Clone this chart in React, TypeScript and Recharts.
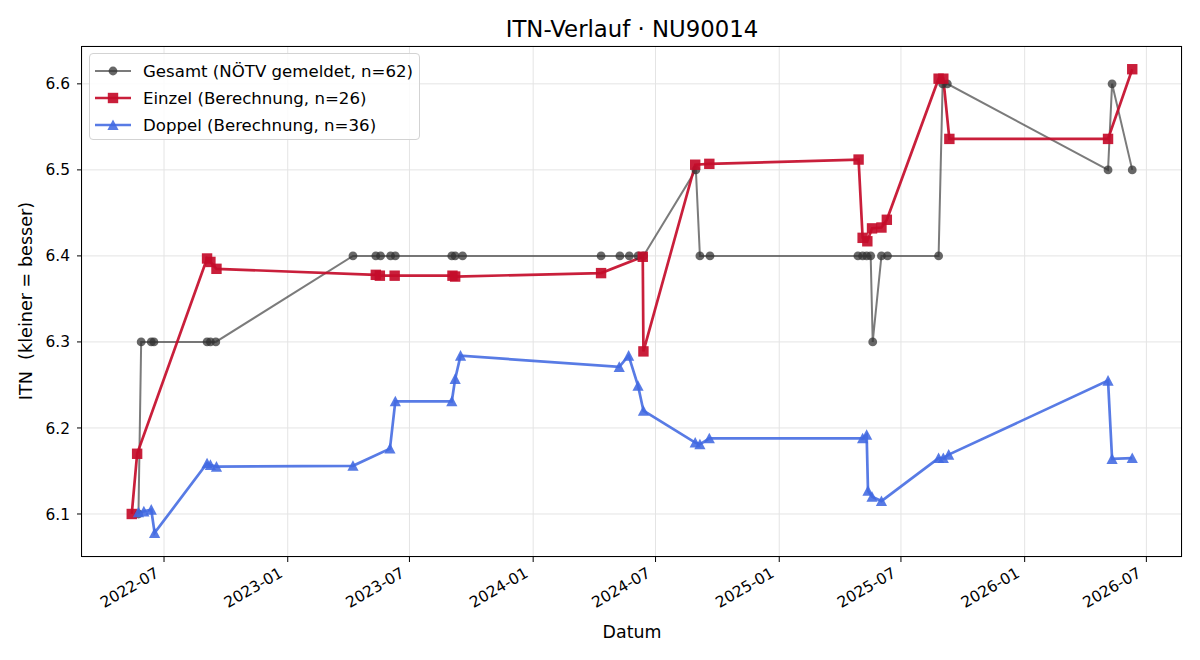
import React from "react";
import { LineChart, Line, XAxis, YAxis, CartesianGrid } from "recharts";

// Gesamt (NÖTV gemeldet)
const gesamtDates = [
  "2022-05-24", "2022-05-28", "2022-06-12", "2022-06-16", "2022-09-03", "2022-09-08",
  "2022-09-16", "2023-04-08", "2023-05-12", "2023-05-19", "2023-06-03", "2023-06-10",
  "2023-09-02", "2023-09-07", "2023-09-18", "2024-04-11", "2024-05-09", "2024-05-23",
  "2024-06-05", "2024-06-13", "2024-08-30", "2024-09-05", "2024-09-20", "2025-04-28",
  "2025-05-05", "2025-05-11", "2025-05-17", "2025-05-20", "2025-06-02", "2025-06-11",
  "2025-08-26", "2025-09-01", "2025-09-08", "2026-05-05", "2026-05-11", "2026-06-10",
];
const gesamtValues = [
  6.1, 6.3, 6.3, 6.3, 6.3, 6.3,
  6.3, 6.4, 6.4, 6.4, 6.4, 6.4,
  6.4, 6.4, 6.4, 6.4, 6.4, 6.4,
  6.4, 6.4, 6.5, 6.4, 6.4, 6.4,
  6.4, 6.4, 6.4, 6.3, 6.4, 6.4,
  6.4, 6.6, 6.6, 6.5, 6.6, 6.5,
];

// Einzel (Berechnung)
const einzelDates = [
  "2022-05-14", "2022-05-22", "2022-09-03", "2022-09-08", "2022-09-17", "2023-05-12",
  "2023-05-18", "2023-06-09", "2023-09-03", "2023-09-07", "2024-04-11", "2024-06-12",
  "2024-06-13", "2024-08-29", "2024-09-19", "2025-04-29", "2025-05-05", "2025-05-12",
  "2025-05-19", "2025-06-02", "2025-06-10", "2025-08-26", "2025-09-02", "2025-09-11",
  "2026-05-05", "2026-06-10",
];
const einzelValues = [
  6.1, 6.17, 6.397, 6.393, 6.385, 6.378,
  6.377, 6.377, 6.377, 6.376, 6.38, 6.399,
  6.289, 6.506, 6.507, 6.512, 6.421, 6.417,
  6.432, 6.433, 6.442, 6.606, 6.606, 6.536,
  6.536, 6.617,
];

// Doppel (Berechnung)
const doppelDates = [
  "2022-05-24", "2022-06-01", "2022-06-12", "2022-06-17", "2022-09-03", "2022-09-08",
  "2022-09-17", "2023-04-08", "2023-06-02", "2023-06-10", "2023-09-02", "2023-09-07",
  "2023-09-15", "2024-05-08", "2024-05-22", "2024-06-05", "2024-06-13", "2024-08-29",
  "2024-09-05", "2024-09-19", "2025-05-05", "2025-05-11", "2025-05-13", "2025-05-19",
  "2025-06-02", "2025-08-26", "2025-09-02", "2025-09-10", "2026-05-05", "2026-05-11",
  "2026-06-10",
];
const doppelValues = [
  6.102, 6.103, 6.105, 6.078, 6.159, 6.157,
  6.155, 6.156, 6.176, 6.231, 6.231, 6.257,
  6.284, 6.271, 6.284, 6.249, 6.22, 6.183,
  6.181, 6.188, 6.188, 6.192, 6.127, 6.12,
  6.115, 6.165, 6.165, 6.169, 6.255, 6.164,
  6.165,
];

const xTickDates = [
  "2022-07-01", "2023-01-01", "2023-07-01", "2024-01-01", "2024-07-01",
  "2025-01-01", "2025-07-01", "2026-01-01", "2026-07-01",
];
const yTicks = [6.1, 6.2, 6.3, 6.4, 6.5, 6.6];

const FONT = "'DejaVu Sans', sans-serif";
const GREY_LINE = "rgba(55,55,55,0.66)";
const GREY_DOT = "rgba(50,50,50,0.74)";
const RED = "rgba(196,12,42,0.92)";
const BLUE = "rgba(65,105,225,0.88)";

const ts = (d: string) => Date.parse(d + "T00:00:00Z");
const toRows = (dates: string[], values: number[]) =>
  dates.map((d, i) => ({ t: ts(d), v: values[i] }));

const gesamt = toRows(gesamtDates, gesamtValues);
const einzel = toRows(einzelDates, einzelValues);
const doppel = toRows(doppelDates, doppelValues);

const fmtMonth = (t: number) => {
  const d = new Date(t);
  return `${d.getUTCFullYear()}-${String(d.getUTCMonth() + 1).padStart(2, "0")}`;
};

function XTick(props: any) {
  const { x, payload } = props;
  const ax = x - 4;
  const ay = 576;
  return (
    <text
      x={ax}
      y={ay}
      textAnchor="end"
      transform={`rotate(-30 ${ax} ${ay})`}
      fontSize={15.4}
      fontFamily={FONT}
      fill="#000"
    >
      {fmtMonth(payload.value)}
    </text>
  );
}

function YTick(props: any) {
  const { y, payload } = props;
  return (
    <text x={70} y={y} dy="0.36em" textAnchor="end" fontSize={15.4} fontFamily={FONT} fill="#000">
      {payload.value.toFixed(1)}
    </text>
  );
}

const circleDot = (p: any) => (
  <circle key={`g-${p.index}`} cx={p.cx} cy={p.cy} r={4.4} fill={GREY_DOT} stroke="none" />
);
const squareDot = (p: any) => (
  <rect key={`e-${p.index}`} x={p.cx - 5.2} y={p.cy - 5.2} width={10.4} height={10.4} fill={RED} stroke="none" />
);
const triangleDot = (p: any) => (
  <polygon
    key={`d-${p.index}`}
    points={`${p.cx},${p.cy - 5.6} ${p.cx - 5.6},${p.cy + 5} ${p.cx + 5.6},${p.cy + 5}`}
    fill={BLUE}
    stroke="none"
  />
);

function LegendBox() {
  const rows = [
    { label: "Gesamt (NÖTV gemeldet, n=62)", color: GREY_LINE, width: 2, marker: "c" },
    { label: "Einzel (Berechnung, n=26)", color: RED, width: 2.6, marker: "s" },
    { label: "Doppel (Berechnung, n=36)", color: BLUE, width: 2.6, marker: "t" },
  ];
  return (
    <div
      style={{
        position: "absolute",
        left: 89,
        top: 53,
        width: 331,
        height: 87,
        border: "1px solid #d3d3d3",
        borderRadius: 4,
        background: "rgba(255,255,255,0.85)",
        boxSizing: "border-box",
      }}
    >
      <svg width={331} height={87} style={{ position: "absolute", left: -1, top: -1 }}>
        {rows.map((r, i) => {
          const cy = 18 + i * 27;
          return (
            <g key={r.label}>
              <line x1={6} x2={42} y1={cy} y2={cy} stroke={r.color} strokeWidth={r.width} />
              {r.marker === "c" && <circle cx={24} cy={cy} r={4.4} fill={GREY_DOT} />}
              {r.marker === "s" && <rect x={18.8} y={cy - 5.2} width={10.4} height={10.4} fill={RED} />}
              {r.marker === "t" && (
                <polygon points={`24,${cy - 5.6} 18.4,${cy + 5} 29.6,${cy + 5}`} fill={BLUE} />
              )}
              <text x={54} y={cy} dy="0.36em" fontSize={16.6} fontFamily={FONT} fill="#000">
                {r.label}
              </text>
            </g>
          );
        })}
      </svg>
    </div>
  );
}

export default function App() {
  return (
    <div style={{ position: "relative", width: 1200, height: 660, background: "#fff", fontFamily: FONT }}>
      <style>{`body{margin:0}`}</style>

      {/* Title */}
      <div
        style={{
          position: "absolute",
          left: 82,
          width: 1100,
          top: 15,
          textAlign: "center",
          fontSize: 22.8,
          lineHeight: "28px",
          color: "#000",
        }}
      >
        ITN-Verlauf · NU90014
      </div>

      <LineChart width={1200} height={660} margin={{ top: 46, right: 18, bottom: 20, left: 0 }}>
        <CartesianGrid stroke="#e4e4e4" strokeWidth={1} />
        <XAxis
          dataKey="t"
          type="number"
          scale="linear"
          domain={[ts("2022-03-01"), ts("2026-08-23")]}
          ticks={xTickDates.map(ts)}
          tick={<XTick />}
          tickSize={5}
          tickLine={{ stroke: "#000" }}
          axisLine={false}
          height={83}
          allowDataOverflow
        />
        <YAxis
          type="number"
          domain={[6.05, 6.644]}
          ticks={yTicks}
          tick={<YTick />}
          tickSize={5}
          tickLine={{ stroke: "#000" }}
          axisLine={false}
          width={82}
          allowDataOverflow
        />
        <Line
          data={gesamt}
          dataKey="v"
          type="linear"
          stroke={GREY_LINE}
          strokeWidth={2}
          dot={circleDot}
          activeDot={false}
          isAnimationActive={false}
        />
        <Line
          data={einzel}
          dataKey="v"
          type="linear"
          stroke={RED}
          strokeWidth={2.7}
          dot={squareDot}
          activeDot={false}
          isAnimationActive={false}
        />
        <Line
          data={doppel}
          dataKey="v"
          type="linear"
          stroke={BLUE}
          strokeWidth={2.7}
          dot={triangleDot}
          activeDot={false}
          isAnimationActive={false}
        />
      </LineChart>

      {/* Plot frame */}
      <div
        style={{
          position: "absolute",
          left: 81,
          top: 46,
          width: 1101,
          height: 511,
          border: "1px solid #000",
          boxSizing: "border-box",
          pointerEvents: "none",
        }}
      />

      <LegendBox />

      {/* Axis labels */}
      <div
        style={{
          position: "absolute",
          left: 82,
          width: 1100,
          top: 622,
          textAlign: "center",
          fontSize: 17.4,
          lineHeight: "20px",
        }}
      >
        Datum
      </div>
      <div
        style={{
          position: "absolute",
          left: 26,
          top: 301,
          transform: "translate(-50%, -50%) rotate(-90deg)",
          fontSize: 17.6,
          lineHeight: "20px",
          whiteSpace: "pre",
        }}
      >
        ITN  (kleiner = besser)
      </div>
    </div>
  );
}
